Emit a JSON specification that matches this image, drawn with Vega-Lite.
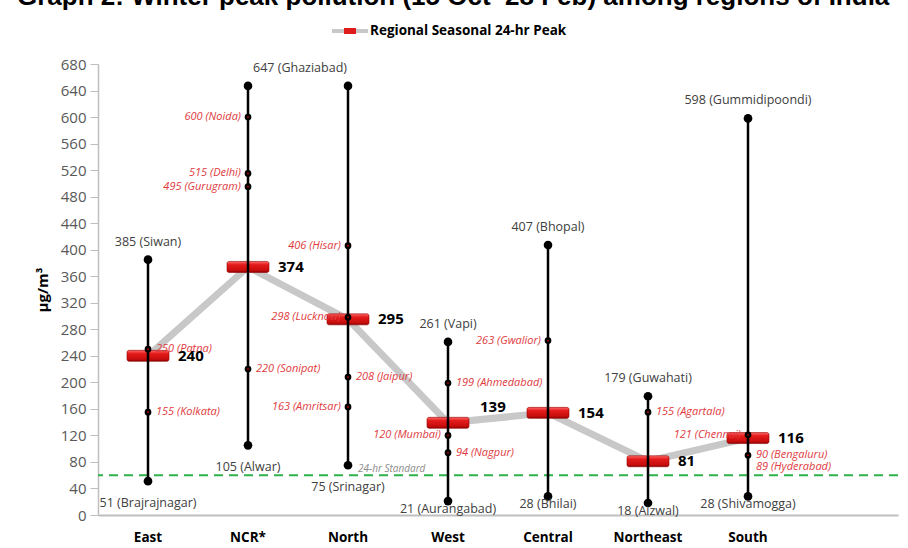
{
  "$schema": "https://vega.github.io/schema/vega-lite/v6.json",
  "width": 800,
  "height": 451,
  "autosize": {"type": "none"},
  "padding": {"left": 98, "top": 64, "right": 10, "bottom": 33},
  "background": "white",
  "title": {
    "text": "Graph 2: Winter peak pollution (15 Oct–28 Feb) among regions of India",
    "anchor": "start",
    "frame": "group",
    "orient": "top",
    "font": "Liberation Sans",
    "fontSize": 26,
    "fontWeight": "bold",
    "color": "#000000",
    "baseline": "alphabetic",
    "offset": -18,
    "dx": -81
  },
  "config": {
    "view": {"stroke": null},
    "font": "Open Sans",
    "axisY": {
      "labelOverlap": false,
      "grid": false,
      "labelFont": "Open Sans",
      "labelFontSize": 15,
      "labelColor": "#595959",
      "labelPadding": 4,
      "tickColor": "#bfbfbf",
      "tickSize": 8,
      "domainColor": "#bfbfbf",
      "domainWidth": 1.5,
      "titleFont": "Open Sans",
      "titleFontSize": 15,
      "titleFontWeight": "bold",
      "titleColor": "#000000",
      "titlePadding": 10
    }
  },
  "datasets": {
    "peaks": [
      {"region": "East", "peak": 240},
      {"region": "NCR*", "peak": 374},
      {"region": "North", "peak": 295},
      {"region": "West", "peak": 139},
      {"region": "Central", "peak": 154},
      {"region": "Northeast", "peak": 81},
      {"region": "South", "peak": 116}
    ],
    "ranges": [
      {"region": "East", "low": 51, "high": 385, "lowLabel": "51 (Brajrajnagar)", "highLabel": "385 (Siwan)"},
      {"region": "NCR*", "low": 105, "high": 647, "lowLabel": "105 (Alwar)", "highLabel": "647 (Ghaziabad)"},
      {"region": "North", "low": 75, "high": 647, "lowLabel": "75 (Srinagar)", "highLabel": ""},
      {"region": "West", "low": 21, "high": 261, "lowLabel": "21 (Aurangabad)", "highLabel": "261 (Vapi)"},
      {"region": "Central", "low": 28, "high": 407, "lowLabel": "28 (Bhilai)", "highLabel": "407 (Bhopal)"},
      {"region": "Northeast", "low": 18, "high": 179, "lowLabel": "18 (Aizwal)", "highLabel": "179 (Guwahati)"},
      {"region": "South", "low": 28, "high": 598, "lowLabel": "28 (Shivamogga)", "highLabel": "598 (Gummidipoondi)"}
    ],
    "citiesLeft": [
      {"region": "NCR*", "value": 600, "label": "600 (Noida)"},
      {"region": "NCR*", "value": 515, "label": "515 (Delhi)"},
      {"region": "NCR*", "value": 495, "label": "495 (Gurugram)"},
      {"region": "North", "value": 406, "label": "406 (Hisar)"},
      {"region": "North", "value": 298, "label": "298 (Lucknow)"},
      {"region": "North", "value": 163, "label": "163 (Amritsar)"},
      {"region": "West", "value": 120, "label": "120 (Mumbai)"},
      {"region": "Central", "value": 263, "label": "263 (Gwalior)"},
      {"region": "South", "value": 121, "label": "121 (Chennai)"}
    ],
    "citiesRight": [
      {"region": "East", "value": 250, "label": "250 (Patna)"},
      {"region": "East", "value": 155, "label": "155 (Kolkata)"},
      {"region": "NCR*", "value": 220, "label": "220 (Sonipat)"},
      {"region": "North", "value": 208, "label": "208 (Jaipur)"},
      {"region": "West", "value": 199, "label": "199 (Ahmedabad)"},
      {"region": "West", "value": 94, "label": "94 (Nagpur)"},
      {"region": "Northeast", "value": 155, "label": "155 (Agartala)"},
      {"region": "South", "value": 90, "label": "90 (Bengaluru)"}
    ],
    "citiesRightBelow": [
      {"region": "South", "value": 89, "label": "89 (Hyderabad)"}
    ],
    "standard": [
      {"region": "North", "standard": 60, "label": "24-hr Standard"}
    ]
  },
  "layer": [
    {
      "data": {"name": "standard"},
      "mark": {"type": "rule", "color": "#2db34a", "strokeDash": [9, 6], "strokeWidth": 2},
      "encoding": {
        "y": {
          "field": "standard",
          "type": "quantitative",
          "title": "µg/m³",
          "scale": {"domain": [0, 680], "nice": false, "zero": true},
          "axis": {"values": [0, 40, 80, 120, 160, 200, 240, 280, 320, 360, 400, 440, 480, 520, 560, 600, 640, 680], "labelOverlap": false}
        }
      }
    },
    {
      "data": {"name": "standard"},
      "mark": {"type": "text", "align": "left", "baseline": "alphabetic", "dx": 10, "dy": -3, "fontSize": 10, "fontStyle": "italic", "color": "#8c8c8c"},
      "encoding": {
        "x": {
          "field": "region",
          "type": "nominal",
          "sort": null,
          "scale": {"domain": ["East", "NCR*", "North", "West", "Central", "Northeast", "South", " "], "paddingInner": 0, "paddingOuter": 0},
          "axis": {
            "title": null,
            "labelAngle": 0,
            "labelFont": "Open Sans",
            "labelFontSize": 13.5,
            "labelFontWeight": "bold",
            "labelColor": "#000000",
            "labelPadding": 15,
            "ticks": false,
            "domainColor": "#bfbfbf",
            "domainWidth": 2
          }
        },
        "y": {"field": "standard", "type": "quantitative", "title": "µg/m³", "axis": {"values": [0, 40, 80, 120, 160, 200, 240, 280, 320, 360, 400, 440, 480, 520, 560, 600, 640, 680], "labelOverlap": false}},
        "text": {"field": "label"}
      }
    },
    {
      "data": {"name": "peaks"},
      "mark": {"type": "line", "strokeWidth": 7, "strokeCap": "butt"},
      "encoding": {
        "x": {"field": "region", "type": "nominal", "sort": null},
        "y": {"field": "peak", "type": "quantitative", "title": "µg/m³", "axis": {"values": [0, 40, 80, 120, 160, 200, 240, 280, 320, 360, 400, 440, 480, 520, 560, 600, 640, 680], "labelOverlap": false}},
        "color": {
          "datum": "Regional Seasonal 24-hr Peak",
          "type": "nominal",
          "scale": {"range": ["#c8c8c8"]},
          "legend": {
            "title": null,
            "orient": "none",
            "legendX": 234,
            "legendY": -51,
            "padding": 0,
            "symbolType": "M-1,-0.11H-0.33V-0.17H0.33V-0.11H1V0.11H0.33V0.17H-0.33V0.11H-1Z",
            "symbolSize": 1296,
            "labelFont": "Open Sans",
            "labelFontSize": 13.5,
            "labelFontWeight": "bold",
            "labelColor": "#000000",
            "labelOffset": 2,
            "labelLimit": 400,
            "encode": {
              "symbols": {
                "update": {
                  "fill": {"value": {"gradient": "linear", "x1": 0, "y1": 0, "x2": 1, "y2": 0, "stops": [
                    {"offset": 0, "color": "#c8c8c8"},
                    {"offset": 0.334, "color": "#c8c8c8"},
                    {"offset": 0.336, "color": "#e01b1b"},
                    {"offset": 0.664, "color": "#e01b1b"},
                    {"offset": 0.666, "color": "#c8c8c8"},
                    {"offset": 1, "color": "#c8c8c8"}
                  ]}},
                  "stroke": {"value": "transparent"},
                  "strokeWidth": {"value": 0},
                  "opacity": {"value": 1}
                }
              }
            }
          }
        }
      }
    },
    {
      "data": {"name": "peaks"},
      "mark": {
        "type": "tick",
        "orient": "horizontal",
        "size": 42,
        "thickness": 11,
        "opacity": 1,
        "cornerRadius": 2,
        "stroke": "#900000",
        "strokeWidth": 0.6,
        "color": {"gradient": "linear", "x1": 0, "y1": 0, "x2": 0, "y2": 1, "stops": [
          {"offset": 0, "color": "#ff6a6a"},
          {"offset": 0.3, "color": "#e41b1b"},
          {"offset": 0.8, "color": "#c80d0d"},
          {"offset": 1, "color": "#8c0000"}
        ]}
      },
      "encoding": {
        "x": {"field": "region", "type": "nominal", "sort": null},
        "y": {"field": "peak", "type": "quantitative", "title": "µg/m³", "axis": {"values": [0, 40, 80, 120, 160, 200, 240, 280, 320, 360, 400, 440, 480, 520, 560, 600, 640, 680], "labelOverlap": false}}
      }
    },
    {
      "data": {"name": "ranges"},
      "mark": {"type": "rule", "color": "#000000", "strokeWidth": 2.5},
      "encoding": {
        "x": {"field": "region", "type": "nominal", "sort": null},
        "y": {"field": "low", "type": "quantitative", "title": "µg/m³", "axis": {"values": [0, 40, 80, 120, 160, 200, 240, 280, 320, 360, 400, 440, 480, 520, 560, 600, 640, 680], "labelOverlap": false}},
        "y2": {"field": "high"}
      }
    },
    {
      "data": {"name": "ranges"},
      "encoding": {
        "x": {"field": "region", "type": "nominal", "sort": null}
      },
      "layer": [
        {
          "mark": {"type": "point", "filled": true, "color": "#000000", "size": 75, "opacity": 1},
          "encoding": {"y": {"field": "low", "type": "quantitative", "title": "µg/m³", "axis": {"values": [0, 40, 80, 120, 160, 200, 240, 280, 320, 360, 400, 440, 480, 520, 560, 600, 640, 680], "labelOverlap": false}}}
        },
        {
          "mark": {"type": "point", "filled": true, "color": "#000000", "size": 75, "opacity": 1},
          "encoding": {"y": {"field": "high", "type": "quantitative", "title": "µg/m³", "axis": {"values": [0, 40, 80, 120, 160, 200, 240, 280, 320, 360, 400, 440, 480, 520, 560, 600, 640, 680], "labelOverlap": false}}}
        },
        {
          "transform": [{"filter": "datum.region != 'NCR*' && datum.region != 'North'"}],
          "mark": {"type": "text", "align": "center", "baseline": "middle", "dy": -18, "fontSize": 12.5, "color": "#404040"},
          "encoding": {
            "y": {"field": "high", "type": "quantitative", "title": "µg/m³", "axis": {"values": [0, 40, 80, 120, 160, 200, 240, 280, 320, 360, 400, 440, 480, 520, 560, 600, 640, 680], "labelOverlap": false}},
            "text": {"field": "highLabel"}
          }
        },
        {
          "transform": [{"filter": "datum.region == 'NCR*'"}],
          "mark": {"type": "text", "align": "center", "baseline": "middle", "dy": -18, "dx": 52, "fontSize": 12.5, "color": "#404040"},
          "encoding": {
            "y": {"field": "high", "type": "quantitative", "title": "µg/m³", "axis": {"values": [0, 40, 80, 120, 160, 200, 240, 280, 320, 360, 400, 440, 480, 520, 560, 600, 640, 680], "labelOverlap": false}},
            "text": {"field": "highLabel"}
          }
        },
        {
          "transform": [{"filter": "datum.region == 'East' || datum.region == 'NCR*' || datum.region == 'North'"}],
          "mark": {"type": "text", "align": "center", "baseline": "middle", "dy": 22, "fontSize": 12.5, "color": "#404040"},
          "encoding": {
            "y": {"field": "low", "type": "quantitative", "title": "µg/m³", "axis": {"values": [0, 40, 80, 120, 160, 200, 240, 280, 320, 360, 400, 440, 480, 520, 560, 600, 640, 680], "labelOverlap": false}},
            "text": {"field": "lowLabel"}
          }
        },
        {
          "transform": [{"filter": "datum.region != 'East' && datum.region != 'NCR*' && datum.region != 'North'"}],
          "mark": {"type": "text", "align": "center", "baseline": "middle", "dy": 8, "fontSize": 12.5, "color": "#404040"},
          "encoding": {
            "y": {"field": "low", "type": "quantitative", "title": "µg/m³", "axis": {"values": [0, 40, 80, 120, 160, 200, 240, 280, 320, 360, 400, 440, 480, 520, 560, 600, 640, 680], "labelOverlap": false}},
            "text": {"field": "lowLabel"}
          }
        }
      ]
    },
    {
      "data": {"name": "citiesLeft"},
      "encoding": {
        "x": {"field": "region", "type": "nominal", "sort": null},
        "y": {"field": "value", "type": "quantitative", "title": "µg/m³", "axis": {"values": [0, 40, 80, 120, 160, 200, 240, 280, 320, 360, 400, 440, 480, 520, 560, 600, 640, 680], "labelOverlap": false}}
      },
      "layer": [
        {"mark": {"type": "point", "filled": false, "fill": "#d00000", "stroke": "#000000", "strokeWidth": 2.5, "size": 18, "opacity": 1}},
        {
          "mark": {"type": "text", "align": "right", "baseline": "middle", "dx": -7, "fontSize": 11, "fontStyle": "italic", "color": "#e03a3e"},
          "encoding": {"text": {"field": "label"}}
        }
      ]
    },
    {
      "data": {"name": "citiesRight"},
      "encoding": {
        "x": {"field": "region", "type": "nominal", "sort": null},
        "y": {"field": "value", "type": "quantitative", "title": "µg/m³", "axis": {"values": [0, 40, 80, 120, 160, 200, 240, 280, 320, 360, 400, 440, 480, 520, 560, 600, 640, 680], "labelOverlap": false}}
      },
      "layer": [
        {"mark": {"type": "point", "filled": false, "fill": "#d00000", "stroke": "#000000", "strokeWidth": 2.5, "size": 18, "opacity": 1}},
        {
          "mark": {"type": "text", "align": "left", "baseline": "middle", "dx": 8, "fontSize": 11, "fontStyle": "italic", "color": "#e03a3e"},
          "encoding": {"text": {"field": "label"}}
        }
      ]
    },
    {
      "data": {"name": "citiesRightBelow"},
      "encoding": {
        "x": {"field": "region", "type": "nominal", "sort": null},
        "y": {"field": "value", "type": "quantitative", "title": "µg/m³", "axis": {"values": [0, 40, 80, 120, 160, 200, 240, 280, 320, 360, 400, 440, 480, 520, 560, 600, 640, 680], "labelOverlap": false}}
      },
      "layer": [
        {
          "mark": {"type": "text", "align": "left", "baseline": "middle", "dx": 8, "dy": 11, "fontSize": 11, "fontStyle": "italic", "color": "#e03a3e"},
          "encoding": {"text": {"field": "label"}}
        }
      ]
    },
    {
      "data": {"name": "peaks"},
      "encoding": {
        "x": {"field": "region", "type": "nominal", "sort": null},
        "y": {"field": "peak", "type": "quantitative", "title": "µg/m³", "axis": {"values": [0, 40, 80, 120, 160, 200, 240, 280, 320, 360, 400, 440, 480, 520, 560, 600, 640, 680], "labelOverlap": false}},
        "text": {"field": "peak", "type": "quantitative"}
      },
      "layer": [
        {
          "transform": [{"filter": "datum.region != 'West'"}],
          "mark": {"type": "text", "align": "left", "baseline": "middle", "dx": 30, "fontSize": 15, "fontWeight": "bold", "color": "#000000"}
        },
        {
          "transform": [{"filter": "datum.region == 'West'"}],
          "mark": {"type": "text", "align": "left", "baseline": "middle", "dx": 32, "dy": -16, "fontSize": 15, "fontWeight": "bold", "color": "#000000"}
        }
      ]
    }
  ]
}
